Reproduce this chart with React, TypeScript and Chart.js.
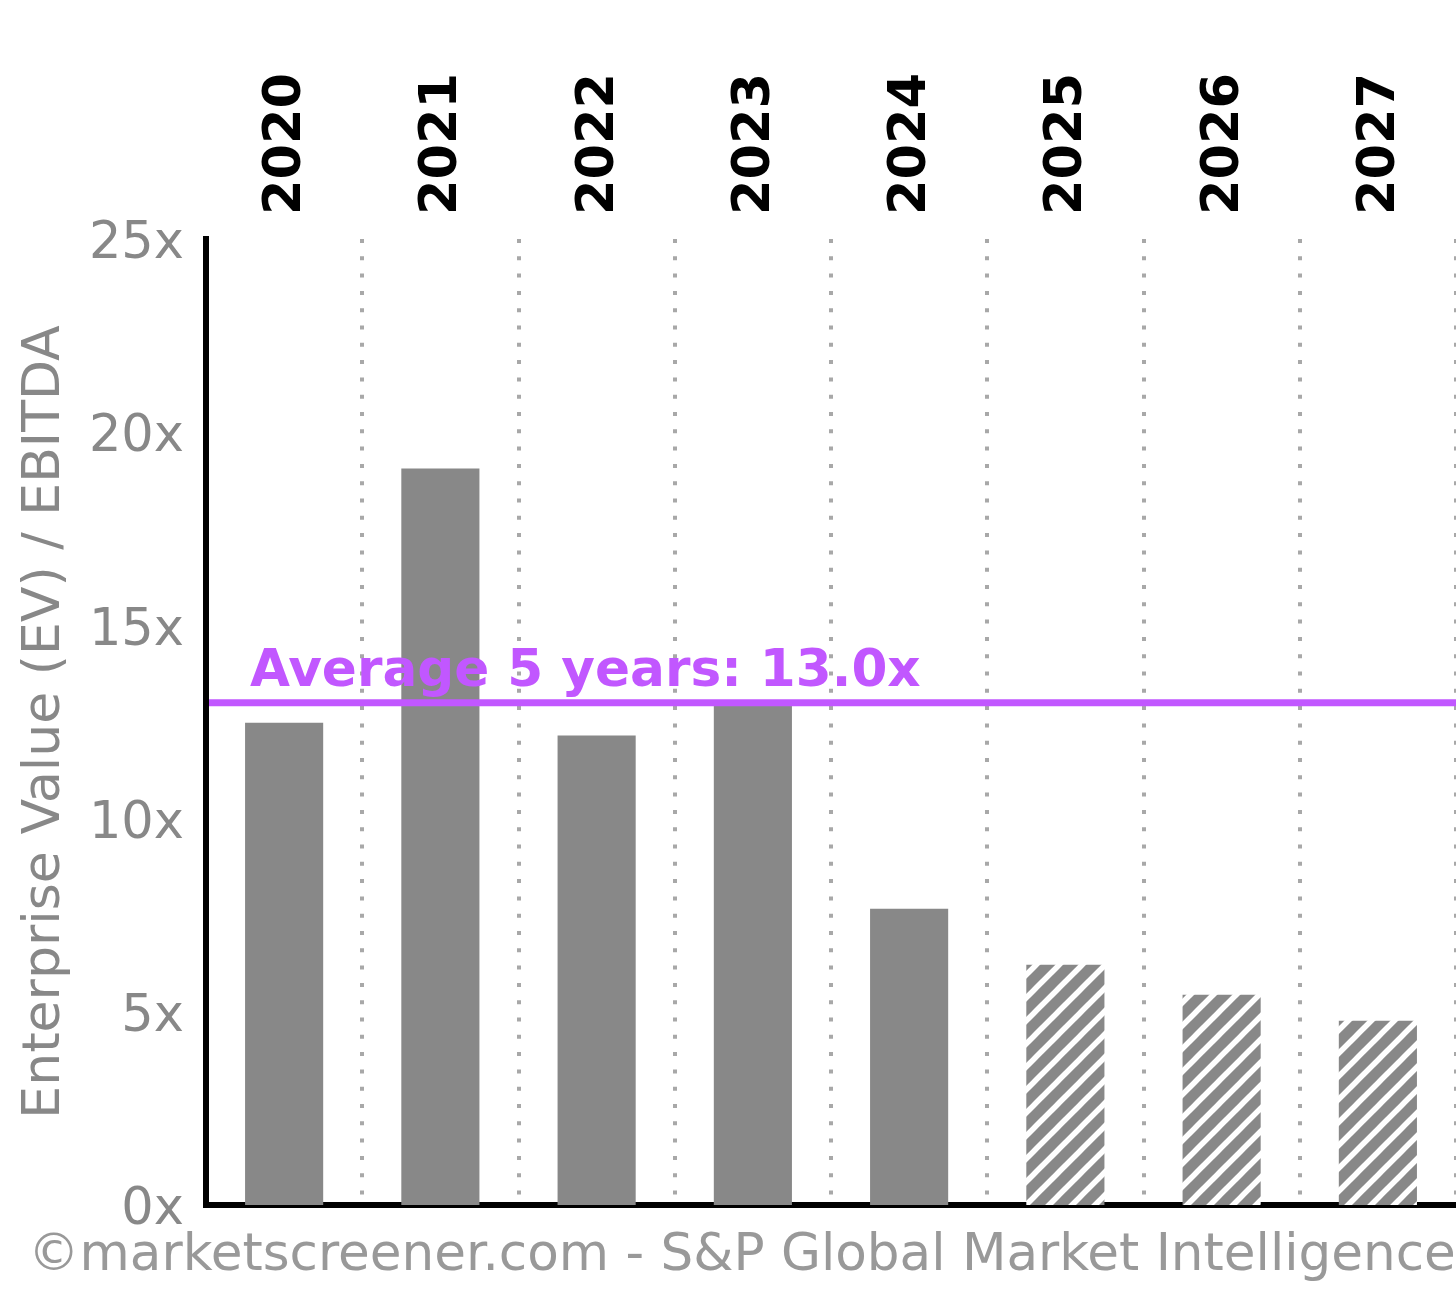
import React, { useEffect, useRef } from "react";
import { Chart, registerables } from "chart.js";

Chart.register(...registerables);

const categories = ["2020", "2021", "2022", "2023", "2024", "2025", "2026", "2027"];
const evEbitda = [12.48, 19.06, 12.15, 13.05, 7.67, 6.22, 5.44, 4.77];
const isEstimate = [false, false, false, false, false, true, true, true];
const average5y = 13.0;
const averageLabel = "Average 5 years: 13.0x";
const yMin = 0;
const yMax = 25;
const yStep = 5;
const yTitle = "Enterprise Value (EV) / EBITDA";
const watermark = "\u00A9marketscreener.com - S&P Global Market Intelligence";

const FONT = "'DejaVu Sans', sans-serif";
const BAR_GRAY = "#888888";
const PURPLE = "#c157ff";

function makeHatch(): CanvasPattern | string {
  const s = 23;
  const c = document.createElement("canvas");
  c.width = s;
  c.height = s;
  const g = c.getContext("2d");
  if (!g) return BAR_GRAY;
  g.fillStyle = BAR_GRAY;
  g.fillRect(0, 0, s, s);
  g.strokeStyle = "#ffffff";
  g.lineWidth = 5.5;
  g.lineCap = "square";
  for (let k = -1; k <= 1; k++) {
    g.beginPath();
    g.moveTo(k * s, s);
    g.lineTo(k * s + s, 0);
    g.stroke();
  }
  const p = g.createPattern(c, "repeat");
  return p || BAR_GRAY;
}

const overlayPlugin = {
  id: "overlay",
  afterDatasetsDraw(chart: any) {
    const { ctx, chartArea } = chart;
    const y = chart.scales.y.getPixelForValue(average5y);
    ctx.save();
    ctx.strokeStyle = PURPLE;
    ctx.lineWidth = 7;
    ctx.beginPath();
    ctx.moveTo(chartArea.left + 3, y);
    ctx.lineTo(chartArea.right, y);
    ctx.stroke();
    ctx.fillStyle = PURPLE;
    ctx.font = `bold 51.7px ${FONT}`;
    ctx.textAlign = "left";
    ctx.textBaseline = "alphabetic";
    ctx.fillText(averageLabel, chartArea.left + 44, y - 17);
    ctx.restore();
  },
  afterDraw(chart: any) {
    const { ctx } = chart;
    ctx.save();
    ctx.fillStyle = "#999999";
    ctx.font = `51.6px ${FONT}`;
    ctx.textAlign = "left";
    ctx.textBaseline = "alphabetic";
    ctx.fillText(watermark, 28, 1270);
    ctx.restore();
  },
};

export default function App() {
  const ref = useRef<HTMLCanvasElement | null>(null);

  useEffect(() => {
    document.body.style.margin = "0";
    const canvas = ref.current;
    if (!canvas) return;
    const hatch = makeHatch();
    const colors = isEstimate.map((e) => (e ? hatch : BAR_GRAY));
    const chart = new Chart(canvas, {
      type: "bar",
      data: {
        labels: categories,
        datasets: [
          {
            data: evEbitda,
            backgroundColor: colors as any,
            borderWidth: 0,
            barPercentage: 0.5,
            categoryPercentage: 1.0,
            xAxisID: "x",
            yAxisID: "y",
          },
        ],
      },
      options: {
        responsive: false,
        animation: false,
        devicePixelRatio: 1,
        layout: { padding: 0 },
        plugins: { legend: { display: false }, tooltip: { enabled: false } },
        scales: {
          x: {
            type: "category",
            position: "top",
            offset: true,
            grid: {
              display: true,
              offset: true,
              color: "#a8a8a8",
              lineWidth: 4,
              drawTicks: false,
              drawOnChartArea: true,
            },
            border: { display: false, dash: [4, 13.3] },
            ticks: {
              color: "#000000",
              font: { family: FONT, size: 51, weight: "bold" },
              minRotation: 90,
              maxRotation: 90,
              autoSkip: false,
              padding: 24,
              labelOffset: 64,
            },
            afterFit: (s: any) => {
              s.height = 239;
            },
          } as any,
          xb: {
            type: "category",
            position: "bottom",
            labels: categories,
            offset: true,
            grid: { display: false, drawTicks: false },
            border: { display: true, color: "#000000", width: 6 },
            ticks: { display: false },
            afterFit: (s: any) => {
              s.height = 87;
            },
          } as any,
          y: {
            type: "linear",
            position: "left",
            min: yMin,
            max: yMax,
            grid: { display: false, drawTicks: false },
            border: { display: true, color: "#000000", width: 6 },
            ticks: {
              stepSize: yStep,
              color: "#888888",
              font: { family: FONT, size: 51 },
              padding: 22,
              labelOffset: 6,
              callback: (v: any) => `${v}x`,
            },
            title: {
              display: true,
              text: yTitle,
              color: "#888888",
              font: { family: FONT, size: 52 },
              padding: { top: 14, bottom: 0 },
            },
            afterFit: (s: any) => {
              s.width = 206;
            },
          } as any,
        },
      },
      plugins: [overlayPlugin],
    });
    return () => chart.destroy();
  }, []);

  return (
    <div style={{ position: "absolute", left: 0, top: 0, width: 1456, height: 1292, background: "#fff" }}>
      <canvas ref={ref} width={1456} height={1292} style={{ display: "block", width: 1456, height: 1292 }} />
    </div>
  );
}
